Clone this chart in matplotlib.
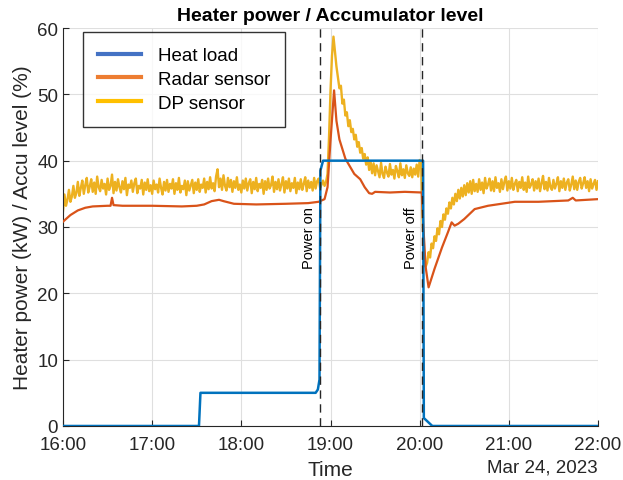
import matplotlib.pyplot as plt
import numpy as np
from matplotlib.lines import Line2D

plt.rcParams["font.family"] = ["Liberation Sans", "DejaVu Sans"]

# Line colours (MATLAB defaults) and the legend swatch colours
BLUE = "#0072BD"
ORANGE = "#D95319"
YELLOW = "#EDB120"
LEG_COLORS = ["#4472C4", "#ED7D31", "#FFC000"]
TXT = "#262626"

# Time axis in minutes after 16:00
tick_minutes = [0, 60, 120, 180, 240, 300, 360]
tick_labels = ["16:00", "17:00", "18:00", "19:00", "20:00", "21:00", "22:00"]
date_label = "Mar 24, 2023"

# Heat load (kW), piecewise
heat_t = [0, 91.5, 92.5, 170.0, 171.5, 172.6, 173.2, 175.0, 242.3, 242.8, 248.5, 360]
heat_v = [0, 0, 5.0, 5.0, 5.5, 7.0, 38.5, 40.0, 40.0, 1.2, 0, 0]

# Radar sensor level (%)
radar_t = [0, 5, 10, 15, 20, 30, 32, 33, 34, 40, 60, 80, 90, 95, 100, 105, 108,
           115, 130, 150, 165, 172, 176, 178, 180, 182.4, 184, 186, 190, 196,
           200, 203, 206, 208, 210, 220, 230, 241.5, 242.5, 244, 246, 248, 250,
           255, 259, 261.5, 263.5, 266, 270, 277, 286, 295, 304, 320, 340, 343,
           345, 360]
radar_v = [30.8, 31.8, 32.5, 32.9, 33.1, 33.2, 33.2, 34.4, 33.3, 33.2, 33.2,
           33.1, 33.2, 33.4, 33.9, 34.1, 33.9, 33.5, 33.4, 33.5, 33.6, 33.8,
           34.2, 36.0, 43.0, 50.6, 46.0, 43.2, 40.3, 38.0, 37.2, 36.0, 35.1,
           35.0, 35.3, 35.2, 35.3, 35.2, 30.0, 24.0, 20.9, 22.3, 23.7, 26.9,
           29.2, 30.7, 30.2, 30.5, 31.2, 32.7, 33.2, 33.5, 33.8, 33.8, 34.0,
           34.4, 34.0, 34.2]

# DP sensor level (%), one sample per minute
dp_v = [
    32.4, 34.9, 33.2, 34.1, 35.6, 33.8, 34.6, 36.2, 34.4, 35.1,
    36.8, 34.7, 35.9, 37.0, 35.0, 36.3, 37.4, 35.2, 36.1, 37.2,
    35.3, 36.7, 35.0, 37.6, 36.0, 35.4, 37.1, 35.8, 36.5, 34.9,
    37.3, 35.6, 36.2, 37.9, 35.1, 36.8, 35.5, 37.2, 36.0, 35.2,
    36.9, 35.7, 37.4, 34.8, 36.4, 35.9, 37.0, 35.3, 36.6, 37.3,
    35.1, 36.2, 35.8, 37.1, 34.9, 36.7, 35.6, 37.2, 35.4, 36.3,
    35.0, 37.0, 35.7, 36.4, 35.2, 37.3, 35.9, 34.9, 36.8, 35.5,
    37.1, 35.3, 36.5, 35.8, 37.2, 35.0, 36.6, 35.6, 37.4, 35.2,
    36.2, 35.7, 37.0, 34.8, 36.9, 35.5, 36.3, 37.1, 35.1, 36.7,
    35.6, 37.2, 35.3, 36.4, 35.9, 37.3, 35.2, 36.8, 35.7, 37.5,
    35.8, 36.6, 35.4, 37.6, 38.7, 36.0, 37.3, 35.6, 37.8, 36.2,
    35.5, 37.4, 36.0, 37.1, 35.3, 36.9, 35.9, 37.5, 35.6, 36.4,
    35.2, 37.0, 35.8, 37.3, 35.5, 36.6, 37.2, 35.1, 36.8, 35.7,
    37.4, 35.4, 36.5, 35.9, 37.1, 35.0, 36.9, 35.6, 37.3, 35.8,
    36.3, 37.6, 35.3, 36.8, 35.7, 37.2, 35.5, 36.4, 37.5, 35.2,
    36.9, 35.8, 37.3, 35.4, 36.6, 35.9, 37.4, 35.1, 36.7, 35.7,
    37.2, 35.6, 36.5, 37.5, 35.4, 37.0, 35.9, 36.8, 35.5, 37.4,
    35.8, 36.9, 37.3, 35.9, 36.4, 37.0, 36.2, 36.8, 38.0, 43.5,
    50.5, 55.8, 58.7, 56.4, 54.2, 52.6, 50.9, 51.3, 48.6, 49.2,
    46.8, 47.3, 45.2, 46.1, 44.3, 44.8, 43.2, 43.9, 42.1, 42.8,
    41.2, 41.9, 40.3, 41.0, 39.4, 40.5, 38.6, 39.8, 38.1, 39.6,
    37.8, 39.3, 38.4, 37.5, 39.7, 38.0, 37.4, 39.1, 38.2, 37.6,
    39.5, 37.9, 38.6, 37.3, 39.2, 38.4, 37.5, 39.6, 37.8, 38.7,
    37.4, 39.3, 38.1, 37.7, 39.0, 37.5, 38.8, 37.9, 39.4, 37.6,
    40.1, 39.5, 31.0, 25.5, 24.0, 24.6, 26.2, 25.4, 27.5, 26.8,
    28.6, 27.9, 29.8, 28.9, 30.9, 30.0, 31.9, 31.1, 32.8, 32.0,
    33.7, 32.8, 34.4, 33.4, 35.0, 33.9, 35.6, 34.3, 35.9, 34.6,
    36.3, 34.8, 36.6, 35.2, 36.9, 35.0, 37.1, 35.4, 36.5, 35.3,
    37.2, 35.6, 36.7, 35.1, 37.4, 35.8, 36.4, 37.3, 35.5, 36.9,
    35.4, 37.5, 35.9, 36.6, 35.3, 37.2, 35.7, 36.8, 37.6, 35.5,
    36.9, 35.8, 37.4, 35.6, 36.5, 37.1, 35.4, 36.8, 35.9, 37.5,
    35.6, 36.7, 35.3, 37.6, 35.9, 36.4, 37.2, 35.5, 36.9, 35.8,
    37.3, 35.4, 36.6, 37.7, 35.7, 36.8, 35.5, 37.4, 36.0, 35.6,
    37.1, 35.8, 36.5, 37.5, 35.4, 36.9, 35.9, 37.3, 35.6, 36.7,
    37.2, 35.5, 36.4, 37.6, 35.7, 37.0, 35.6, 36.8, 37.4, 35.8,
    36.6, 37.5, 35.9, 36.9, 35.4, 37.2, 35.8, 36.5, 37.1, 35.6,
    36.9,
]
dp_t = np.arange(len(dp_v))

# Heater switch events
power_on = 172.6
power_off = 241.5

fig = plt.figure(figsize=(6.23, 4.81), dpi=100)
ax = fig.add_axes([0.1011, 0.1123, 0.8588, 0.8274])

ax.plot(dp_t, dp_v, color=YELLOW, lw=1.7, zorder=2)
ax.plot(radar_t, radar_v, color=ORANGE, lw=1.6, zorder=3)
ax.plot(heat_t, heat_v, color=BLUE, lw=1.8, zorder=4)

for t, lbl in [(power_on, "Power on"), (power_off, "Power off")]:
    ax.axvline(t, color=TXT, lw=1.0, ls=(0, (6, 4)), zorder=5)
    ax.text(t - 2.5, 28.5, lbl, rotation=90, ha="right", va="center",
            fontsize=10.5, color="black")

ax.set_xlim(0, 360)
ax.set_ylim(0, 60)
ax.set_xticks(tick_minutes)
ax.set_xticklabels(tick_labels)
ax.set_yticks(range(0, 61, 10))
ax.tick_params(direction="in", length=4, labelsize=13.5, colors=TXT,
               top=False, right=False)
ax.tick_params(axis="x", pad=7)
ax.grid(True, color="#DFDFDF", lw=0.8)
ax.set_axisbelow(True)
for side in ["top", "right"]:
    ax.spines[side].set_visible(False)
for side in ["left", "bottom"]:
    ax.spines[side].set_color(TXT)
    ax.spines[side].set_linewidth(0.8)

ax.set_title("Heater power / Accumulator level", fontsize=14,
             fontweight="bold", pad=6)
ax.set_xlabel("Time", fontsize=15, color=TXT, labelpad=5)
ax.set_ylabel("Heater power (kW) / Accu level (%)", fontsize=15, color=TXT,
              labelpad=4)
ax.text(1.0, -0.082, date_label, transform=ax.transAxes, ha="right", va="top",
        fontsize=13.5, color=TXT)

handles = [Line2D([], [], color=c, lw=3) for c in LEG_COLORS]
leg = ax.legend(handles, ["Heat load", "Radar sensor", "DP sensor"],
                loc="upper left", bbox_to_anchor=(0.0374, 0.99),
                borderaxespad=0, fontsize=13.5, frameon=True, fancybox=False,
                edgecolor="black", handlelength=2.3, borderpad=0.8,
                labelspacing=0.36, handletextpad=0.9)
leg.get_frame().set_linewidth(1.0)
leg.set_zorder(10)

fig.savefig("out.png", dpi=100, facecolor="white")
